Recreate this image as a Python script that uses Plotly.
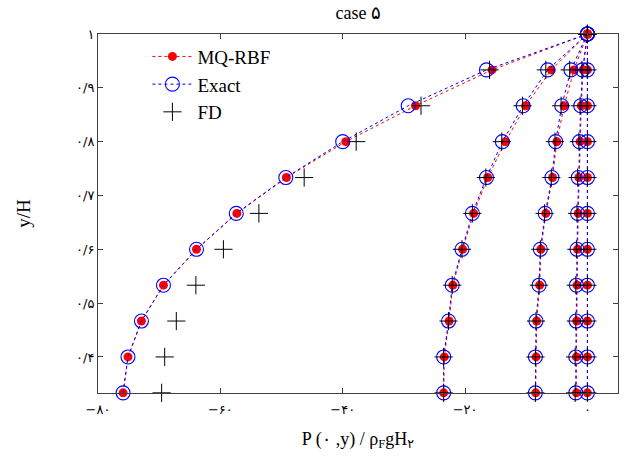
import plotly.graph_objects as go

# y/H positions (11 levels from 1 down to 1/3)
y_vals = [1.0, 0.9333, 0.8667, 0.8, 0.7333, 0.6667, 0.6, 0.5333, 0.4667, 0.4, 0.3333]

# MQ-RBF results, five curves
mq_c1 = [0, -15.6, -28.1, -39.5, -49.2, -57.3, -63.9, -69.3, -72.9, -75.1, -75.9]
mq_c2 = [0, -5.9, -10.1, -13.4, -16.3, -18.6, -20.4, -22.0, -22.6, -23.4, -23.5]
mq_c3 = [0, -2.2, -3.8, -5.0, -5.7, -6.8, -7.6, -7.8, -8.3, -8.4, -8.45]
mq_c4 = [0, -0.7, -1.0, -1.2, -1.4, -1.5, -1.6, -1.7, -1.75, -1.8, -1.8]
mq_c5 = [0, 0, 0, 0, 0, 0, 0, 0, 0, 0, 0]

# Exact solution, five curves
ex_c1 = [0, -16.5, -29.3, -40.0, -49.3, -57.4, -63.9, -69.3, -72.9, -75.1, -75.9]
ex_c2 = [0, -6.5, -10.5, -13.9, -16.5, -18.8, -20.5, -22.1, -22.7, -23.5, -23.5]
ex_c3 = [0, -2.7, -4.2, -5.2, -5.8, -6.9, -7.7, -7.9, -8.4, -8.5, -8.5]
ex_c4 = [0, -0.8, -1.1, -1.3, -1.5, -1.6, -1.7, -1.8, -1.85, -1.9, -1.9]
ex_c5 = [0, 0, 0, 0, 0, 0, 0, 0, 0, 0, 0]

# Finite difference results
fd_c1 = [0, -16.0, -27.2, -37.8, -46.3, -53.7, -59.5, -64.0, -67.2, -69.1, -69.6]
fd_c2 = [0, -6.8, -10.6, -14.0, -16.6, -18.8, -20.5, -22.1, -22.7, -23.5, -23.5]
fd_c3 = [0, -2.9, -4.3, -5.3, -5.9, -7.0, -7.7, -7.9, -8.4, -8.5, -8.5]
fd_c4 = [0, -0.9, -1.2, -1.4, -1.6, -1.7, -1.8, -1.9, -1.9, -2.0, -2.0]
fd_c5 = [0, 0, 0, 0, 0, 0, 0, 0, 0, 0, 0]

x_ticks = [-80, -60, -40, -20, 0]
x_tick_labels = ["\u2212۸۰", "\u2212۶۰", "\u2212۴۰", "\u2212۲۰", "۰"]
y_ticks = [0.4, 0.5, 0.6, 0.7, 0.8, 0.9, 1.0]
y_tick_labels = ["۰/۴", "۰/۵", "۰/۶", "۰/۷", "۰/۸", "۰/۹", "۱"]

mq_all = [mq_c1, mq_c2, mq_c3, mq_c4, mq_c5]
ex_all = [ex_c1, ex_c2, ex_c3, ex_c4, ex_c5]
fd_all = [fd_c1, fd_c2, fd_c3, fd_c4, fd_c5]

fig = go.Figure()

for i, xs in enumerate(mq_all):
    fig.add_trace(go.Scatter(
        x=xs, y=y_vals, mode="lines+markers", name="MQ-RBF",
        legendgroup="mq", showlegend=(i == 0), cliponaxis=False,
        line=dict(color="red", width=1, dash="dot"),
        marker=dict(symbol="circle", size=9, color="red", line=dict(width=0)),
    ))

for i, xs in enumerate(ex_all):
    fig.add_trace(go.Scatter(
        x=xs, y=y_vals, mode="lines+markers", name="Exact",
        legendgroup="ex", showlegend=(i == 0), cliponaxis=False,
        line=dict(color="blue", width=1, dash="dot"),
        marker=dict(symbol="circle-open", size=14, color="blue", line=dict(width=1.1, color="blue")),
    ))

for i, xs in enumerate(fd_all):
    fig.add_trace(go.Scatter(
        x=xs, y=y_vals, mode="markers", name="FD",
        legendgroup="fd", showlegend=(i == 0), cliponaxis=False,
        marker=dict(symbol="cross-thin-open", size=13, color="black", line=dict(width=1, color="black")),
    ))

axis_common = dict(
    showgrid=False, zeroline=False, showline=True, linecolor="#404040", linewidth=1,
    mirror="ticks", ticks="inside", ticklen=5, tickcolor="#404040",
    tickfont=dict(family="DejaVu Sans, Liberation Serif", size=13, color="black"),
)

fig.update_layout(
    width=628, height=459,
    margin=dict(l=98, r=10, t=34, b=66),
    paper_bgcolor="white", plot_bgcolor="white",
    title=dict(text="case ۵", x=358 / 628, xanchor="center", y=0.985, yanchor="top",
               font=dict(family="Liberation Serif, DejaVu Sans", size=18, color="black")),
    xaxis=dict(range=[-80, 5], tickvals=x_ticks, ticktext=x_tick_labels, ticklabelstandoff=4,
               title=dict(text="P (۰ ,y) / ρ<sub>F</sub>gH<sub>۲</sub>", standoff=16,
                          font=dict(family="Liberation Serif, DejaVu Sans", size=18, color="black")),
               **axis_common),
    yaxis=dict(range=[0.333, 1.0], tickvals=y_ticks, ticktext=y_tick_labels,
               title=dict(text="y/H", standoff=40,
                          font=dict(family="Liberation Serif, DejaVu Sans", size=19, color="black")),
               **axis_common),
    legend=dict(x=0.095, y=0.99, xanchor="left", yanchor="top", bgcolor="rgba(0,0,0,0)",
                font=dict(family="Liberation Serif", size=19, color="black"),
                tracegroupgap=0, itemwidth=40),
    showlegend=True,
)

fig.write_html("out.html")
